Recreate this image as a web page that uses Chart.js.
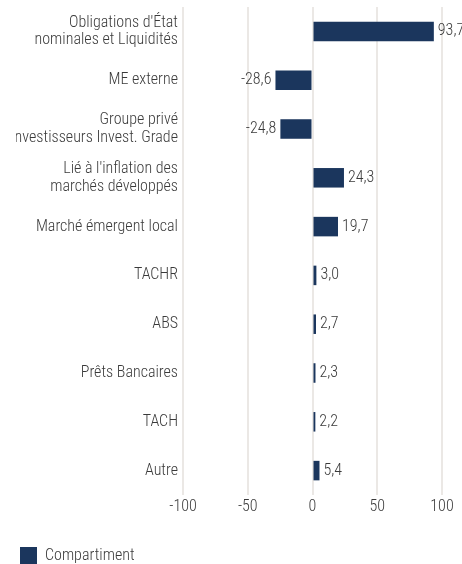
<!DOCTYPE html>
<html>
<head>
<meta charset="utf-8">
<script src="https://cdn.jsdelivr.net/npm/chart.js@4"></script>
<style>
  html, body { margin: 0; padding: 0; background: #fff; }
  #wrap { width: 462px; height: 564px; }
</style>
</head>
<body>
<div id="wrap"><canvas id="BarChart" width="462" height="564"></canvas></div>
<script>
var categories = [
    ["Obligations d'État", 'nominales et Liquidités'],
    'ME externe',
    ['Groupe privé', "d'investisseurs Invest. Grade"],
    ["Lié à l'inflation des", 'marchés développés'],
    'Marché émergent local',
    'TACHR',
    'ABS',
    'Prêts Bancaires',
    'TACH',
    'Autre'
];
var values = [93.7, -28.6, -24.8, 24.3, 19.7, 3.0, 2.7, 2.3, 2.2, 5.4];
var xTicks = [-100, -50, 0, 50, 100];
var seriesName = 'Compartiment';

var fontFamily = "'Roboto Condensed', 'DejaVu Sans Condensed', sans-serif";
var fontWeight = 300;
var fontSize = 16;
var textColor = '#3a3a3a';
var barColor = '#1b365d';

// valeurs écrites au bout des barres
var valueLabels = {
    id: 'valueLabels',
    afterDatasetsDraw: function (chart) {
        var ctx = chart.ctx;
        var meta = chart.getDatasetMeta(0);
        ctx.save();
        ctx.font = fontWeight + ' ' + fontSize + 'px ' + fontFamily;
        ctx.fillStyle = textColor;
        ctx.textBaseline = 'middle';
        meta.data.forEach(function (bar, i) {
            var v = values[i];
            var txt = v.toFixed(1).replace('.', ',');
            if (v < 0) {
                ctx.textAlign = 'right';
                ctx.fillText(txt, bar.x - 4, bar.y);
            } else {
                ctx.textAlign = 'left';
                ctx.fillText(txt, bar.x + 4, bar.y);
            }
        });
        ctx.restore();
    }
};

var data = {
    labels: categories,
    datasets: [{
        label: seriesName,
        data: values,
        backgroundColor: barColor,
        borderWidth: 0,
        barPercentage: 0.4,
        categoryPercentage: 1.0
    }]
};

var config = {
    type: 'bar',
    data: data,
    options: {
        indexAxis: 'y',
        responsive: false,
        animation: false,
        layout: { padding: { top: 7, right: 20, left: 16, bottom: -10 } },
        plugins: {
            legend: {
                position: 'bottom',
                align: 'start',
                labels: {
                    boxWidth: 17,
                    boxHeight: 17,
                    padding: 4,
                    color: textColor,
                    font: { family: fontFamily, size: fontSize, weight: fontWeight }
                }
            },
            tooltip: { enabled: false }
        },
        scales: {
            x: {
                min: -100,
                max: 100,
                afterBuildTicks: function (scale) {
                    scale.ticks = xTicks.map(function (v) { return { value: v }; });
                },
                afterFit: function (scale) { scale.height = 48; },
                grid: { color: '#ebe8e5', lineWidth: 2, drawTicks: false },
                border: { display: false },
                ticks: {
                    color: textColor,
                    padding: 2,
                    font: { family: fontFamily, size: fontSize, weight: fontWeight }
                }
            },
            y: {
                grid: { display: false, drawTicks: false },
                border: { display: false },
                afterFit: function (scale) {
                    scale.width = 167;
                    scale.paddingTop = 0;
                    scale.paddingBottom = 0;
                },
                ticks: {
                    color: textColor,
                    padding: 5,
                    font: { family: fontFamily, size: fontSize, weight: fontWeight, lineHeight: 1.1 }
                }
            }
        }
    },
    plugins: [valueLabels]
};

var barChart = new Chart(document.getElementById('BarChart'), config);
</script>
</body>
</html>
